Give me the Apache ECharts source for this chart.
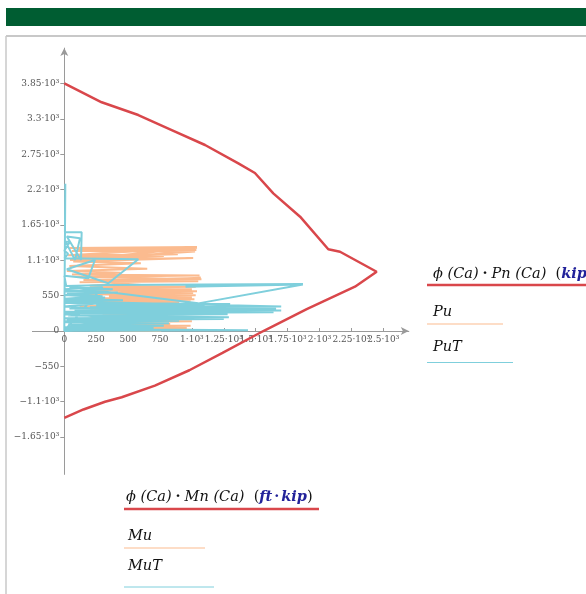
<!DOCTYPE html>
<html><head><meta charset="utf-8">
<script src="https://cdn.jsdelivr.net/npm/echarts@6/dist/echarts.min.js"></script>
<style>html,body{margin:0;padding:0;background:#fff}#c{width:586px;height:594px}</style>
</head><body><div id="c"></div>
<script>
// Capacity curve  phi*Mn (ft*kip) vs phi*Pn (kip)
const capMn = [0, 293, 580, 842, 1103, 1364, 1494, 1638, 1848, 2069, 2161, 2448, 2278, 1900, 1560, 1240, 980, 710, 450, 319, 150, 0];
const capPn = [3850, 3557, 3359, 3126, 2893, 2608, 2457, 2141, 1778, 1271, 1233, 922, 689, 340, 0, -340, -610, -850, -1030, -1100, -1220, -1350];

// Load cases Mu / Pu (orange)
const mu = [40, 1040, 100, 1035, 60, 1025, 150, 1040, 30, 890, 80, 780, 45, 1010, 70, 600, 40, 650, 20, 440, 60, 1060, 100, 1075, 150, 1050, 120, 1070, 200, 1030, 250, 1000, 180, 1040, 300, 1010, 160, 1030, 350, 1000, 200, 1020, 400, 990, 250, 900, 300, 820, 120, 720, 200, 900, 350, 700, 250, 860, 300, 800, 200, 980, 250, 1000, 150, 830, 300, 990, 120, 960, 80, 1000, 200, 760];
const pu = [1290, 1305, 1275, 1260, 1245, 1235, 1125, 1295, 1180, 1195, 1150, 1165, 1105, 1135, 1080, 1055, 1010, 970, 935, 905, 880, 865, 840, 805, 795, 775, 760, 830, 705, 690, 670, 650, 640, 620, 600, 590, 570, 555, 540, 525, 510, 495, 485, 470, 455, 440, 420, 400, 385, 365, 345, 330, 315, 300, 280, 260, 240, 220, 200, 190, 165, 150, 130, 110, 95, 80, 60, 50, 30, 20, 10, 5];

// Load cases MuT / PuT (cyan)
const muT = [0, 8, 5, 136, 131, 20, 123, 84, 10, 44, 0, 30, 0, 580, 345, 20, 240, 188, 0, 15, 330, 1870, 950, 1870, 1050, 40, 380, 0, 420, 20, 300, 0, 460, 30, 1700, 200, 1660, 80, 1700, 150, 1640, 60, 1550, 100, 1620, 250, 1300, 0, 1100, 40, 1350, 0, 1280, 30, 1290, 0, 1250, 20, 900, 0, 820, 30, 780, 0, 700, 10, 1440, 0, 300, 0, 260, 0, 320, 0, 280, 0, 330, 0, 300, 0, 350, 0, 400, 0];
const puT = [0, 2290, 1540, 1535, 1104, 1470, 1442, 1104, 1390, 1389, 1250, 1200, 1130, 1115, 742, 960, 1104, 820, 860, 700, 715, 730, 690, 725, 430, 680, 650, 620, 600, 580, 540, 500, 480, 460, 380, 370, 345, 330, 320, 300, 290, 275, 310, 355, 360, 395, 420, 440, 400, 350, 330, 300, 260, 240, 215, 200, 185, 170, 160, 140, 120, 100, 80, 60, 45, 30, 12, 5, 680, 650, 600, 560, 520, 470, 430, 380, 340, 260, 220, 150, 110, 60, 20, 0];

// Axis ticks
const xTickValues = [0, 250, 500, 750, 1000, 1250, 1500, 1750, 2000, 2250, 2500];
const xTickLabels = ['0', '250', '500', '750', '1·10³', '1.25·10³', '1.5·10³', '1.75·10³', '2·10³', '2.25·10³', '2.5·10³'];
const yTickValues = [-1650, -1100, -550, 0, 550, 1100, 1650, 2200, 2750, 3300, 3850];
const yTickLabels = ['−1.65·10³', '−1.1·10³', '−550', '0', '550', '1.1·10³', '1.65·10³', '2.2·10³', '2.75·10³', '3.3·10³', '3.85·10³'];

const zip = (a, b) => a.map((v, i) => [v, b[i]]);
const lbl = (vals, labels) => v => { const i = vals.indexOf(v); return i >= 0 ? labels[i] : ''; };

const RED = '#d9474b', ORANGE = '#fbbb8f', CYAN = '#7fcfdc';
const SERIF = '"DejaVu Serif","Liberation Serif",serif';
const axisLabelStyle = { fontFamily: SERIF, fontSize: 9, color: '#555' };

const G = { left: 32.4, top: 48.1, width: 376.4, height: 426.3 };
const X0 = 64.3, Y0 = 331; // where axes cross (px)
const xLabelMargin = 4 - (G.top + G.height - Y0);
// labels are split over two x axes so that the crowded labels are all kept (as in the reference)
const xEven = xTickValues.filter((v, i) => i % 2 === 0);
const xOdd = xTickValues.filter((v, i) => i % 2 === 1);

const chart = echarts.init(document.getElementById('c'), null, { renderer: 'canvas' });
chart.setOption({
  animation: false,
  backgroundColor: '#fff',
  grid: Object.assign({ containLabel: false, outerBoundsMode: 'none' }, G),
  xAxis: [{
    type: 'value', min: -250, max: 2700, position: 'bottom',
    axisLine: { onZero: true, lineStyle: { color: '#9a9a9a', width: 1 }, symbol: ['none', 'arrow'], symbolSize: [6, 8] },
    axisTick: { show: true, inside: true, length: 3, lineStyle: { color: '#9a9a9a' }, customValues: xTickValues },
    axisLabel: Object.assign({ customValues: xEven, formatter: lbl(xTickValues, xTickLabels), margin: xLabelMargin, hideOverlap: false, interval: 0, showMinLabel: true, showMaxLabel: true }, axisLabelStyle),
    splitLine: { show: false }
  }, {
    type: 'value', min: -250, max: 2700, position: 'bottom', offset: 0,
    axisLine: { show: false, onZero: false },
    axisTick: { show: false },
    axisLabel: Object.assign({ customValues: xOdd, formatter: lbl(xTickValues, xTickLabels), margin: xLabelMargin, hideOverlap: false, interval: 0, showMinLabel: true, showMaxLabel: true }, axisLabelStyle),
    splitLine: { show: false }
  }],
  yAxis: {
    type: 'value', min: -2230, max: 4400,
    axisLine: { onZero: true, lineStyle: { color: '#9a9a9a', width: 1 }, symbol: ['none', 'arrow'], symbolSize: [6, 8] },
    axisTick: { show: true, inside: false, length: 4, lineStyle: { color: '#9a9a9a' }, customValues: yTickValues },
    axisLabel: Object.assign({ customValues: yTickValues, formatter: lbl(yTickValues, yTickLabels), margin: 5 - (X0 - G.left), hideOverlap: false, showMinLabel: true, showMaxLabel: true }, axisLabelStyle),
    splitLine: { show: false }
  },
  series: [
    { name: 'φ(Ca)·Pn(Ca)', type: 'line', data: zip(capMn, capPn), symbol: 'none', lineStyle: { color: RED, width: 2.5 }, z: 2 },
    { name: 'Pu', type: 'line', data: zip(mu, pu), symbol: 'none', lineStyle: { color: ORANGE, width: 2 }, z: 3 },
    { name: 'PuT', type: 'line', data: zip(muT, puT), symbol: 'none', lineStyle: { color: CYAN, width: 2 }, z: 4 }
  ],
  graphic: [
    { type: 'rect', shape: { x: 6, y: 8, width: 580, height: 18 }, style: { fill: '#005d32' } },
    { type: 'line', shape: { x1: 6, y1: 36, x2: 586, y2: 36 }, style: { stroke: '#c8c8c8', lineWidth: 2 } },
    { type: 'line', shape: { x1: 6, y1: 36, x2: 6, y2: 594 }, style: { stroke: '#c8c8c8', lineWidth: 1.5 } },
    // Right legend
    { type: 'text', x: 433, y: 274, style: { text: '{i|ϕ (Ca)}{d|·}{i|Pn (Ca)}{p|  (}{b|kip}{p|)}', verticalAlign: 'middle',
      rich: { i: { fontFamily: SERIF, fontStyle: 'italic', fontSize: 14.5, fill: '#111' }, d: { fontFamily: SERIF, fontWeight: 'bold', fontSize: 14.5, fill: '#111', padding: [0, 4] }, p: { fontFamily: SERIF, fontSize: 14.5, fill: '#111' }, b: { fontFamily: SERIF, fontStyle: 'italic', fontWeight: 'bold', fontSize: 14.5, fill: '#22229a' } } } },
    { type: 'line', shape: { x1: 427, y1: 285, x2: 586, y2: 285 }, style: { stroke: RED, lineWidth: 2.5 } },
    { type: 'text', x: 433, y: 312, style: { text: 'Pu', fontFamily: SERIF, fontStyle: 'italic', fontSize: 14.5, fill: '#111', verticalAlign: 'middle' } },
    { type: 'line', shape: { x1: 427, y1: 324, x2: 503, y2: 324 }, style: { stroke: ORANGE, lineWidth: 1 } },
    { type: 'text', x: 433, y: 347, style: { text: 'PuT', fontFamily: SERIF, fontStyle: 'italic', fontSize: 14.5, fill: '#111', verticalAlign: 'middle' } },
    { type: 'line', shape: { x1: 427, y1: 362.5, x2: 513, y2: 362.5 }, style: { stroke: CYAN, lineWidth: 1 } },
    // Bottom legend
    { type: 'text', x: 126, y: 497, style: { text: '{i|ϕ (Ca)}{d|·}{i|Mn (Ca)}{p|  (}{b|ft}{d2|·}{b|kip}{p|)}', verticalAlign: 'middle',
      rich: { i: { fontFamily: SERIF, fontStyle: 'italic', fontSize: 14.5, fill: '#111' }, d: { fontFamily: SERIF, fontWeight: 'bold', fontSize: 14.5, fill: '#111', padding: [0, 4] }, d2: { fontFamily: SERIF, fontWeight: 'bold', fontSize: 14.5, fill: '#22229a', padding: [0, 2] }, p: { fontFamily: SERIF, fontSize: 14.5, fill: '#111' }, b: { fontFamily: SERIF, fontStyle: 'italic', fontWeight: 'bold', fontSize: 14.5, fill: '#22229a' } } } },
    { type: 'line', shape: { x1: 124, y1: 509, x2: 319, y2: 509 }, style: { stroke: RED, lineWidth: 2.5 } },
    { type: 'text', x: 128, y: 536, style: { text: 'Mu', fontFamily: SERIF, fontStyle: 'italic', fontSize: 14.5, fill: '#111', verticalAlign: 'middle' } },
    { type: 'line', shape: { x1: 124, y1: 548, x2: 205, y2: 548 }, style: { stroke: ORANGE, lineWidth: 1 } },
    { type: 'text', x: 128, y: 566, style: { text: 'MuT', fontFamily: SERIF, fontStyle: 'italic', fontSize: 14.5, fill: '#111', verticalAlign: 'middle' } },
    { type: 'line', shape: { x1: 124, y1: 587, x2: 214, y2: 587 }, style: { stroke: CYAN, lineWidth: 1 } }
  ]
});
</script></body></html>
